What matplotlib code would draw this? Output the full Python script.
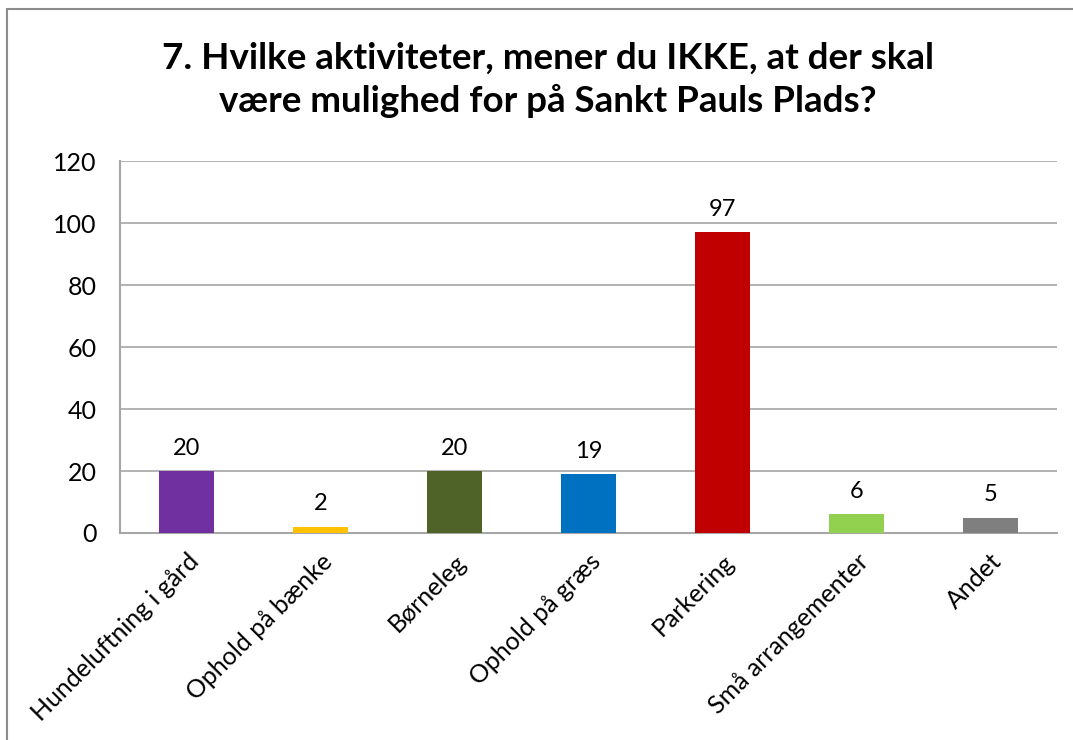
import matplotlib.pyplot as plt
from matplotlib.patches import Rectangle
import numpy as np

plt.rcParams['font.family'] = ['Lato', 'DejaVu Sans']

categories = ['Hundeluftning i gård', 'Ophold på bænke', 'Børneleg', 'Ophold på græs',
              'Parkering', 'Små arrangementer', 'Andet']
values = [20, 2, 20, 19, 97, 6, 5]
colors = ['#7030A0', '#FFC000', '#4F6228', '#0070C0', '#C00000', '#92D050', '#7F7F7F']
title = '7. Hvilke aktiviteter, mener du IKKE, at der skal\nvære mulighed for på Sankt Pauls Plads?'

fig = plt.figure(figsize=(10.73, 7.40), dpi=100)
ax = fig.add_axes([120 / 1073, 207 / 740, 937 / 1073, 372 / 740])

# outer chart border (cut off at right and bottom)
fig.patches.append(Rectangle((7 / 1073, -0.05), 1.2, 1 - 9 / 740 + 0.05,
                             transform=fig.transFigure, fill=False,
                             edgecolor='#8c8c8c', linewidth=1.5))

x = np.arange(len(categories))
ax.bar(x, values, width=0.41, color=colors, zorder=3)
for xi, v in zip(x, values):
    ax.text(xi, v + 4, str(v), ha='center', va='bottom', fontsize=17)

ax.set_xlim(-0.5, len(categories) - 0.5)
ax.set_ylim(0, 120)
ax.set_yticks(np.arange(0, 121, 20))
ax.yaxis.grid(True, color='#a6a6a6', linewidth=1.2, zorder=0)
ax.set_xticks(x)
ax.set_xticklabels(categories, rotation=45, ha='right', rotation_mode='anchor', fontsize=18)
ax.tick_params(axis='both', length=0)
ax.tick_params(axis='y', pad=17, labelsize=18)
ax.tick_params(axis='x', pad=12)
for s in ['top', 'right']:
    ax.spines[s].set_visible(False)
for s in ['left', 'bottom']:
    ax.spines[s].set_color('#a6a6a6')
    ax.spines[s].set_linewidth(1.5)

fig.text(548 / 1073, 1 - 80 / 740, title, ha='center', va='center',
         fontsize=26.5, fontweight='bold', linespacing=1.3)

fig.savefig('out.png', dpi=100)
